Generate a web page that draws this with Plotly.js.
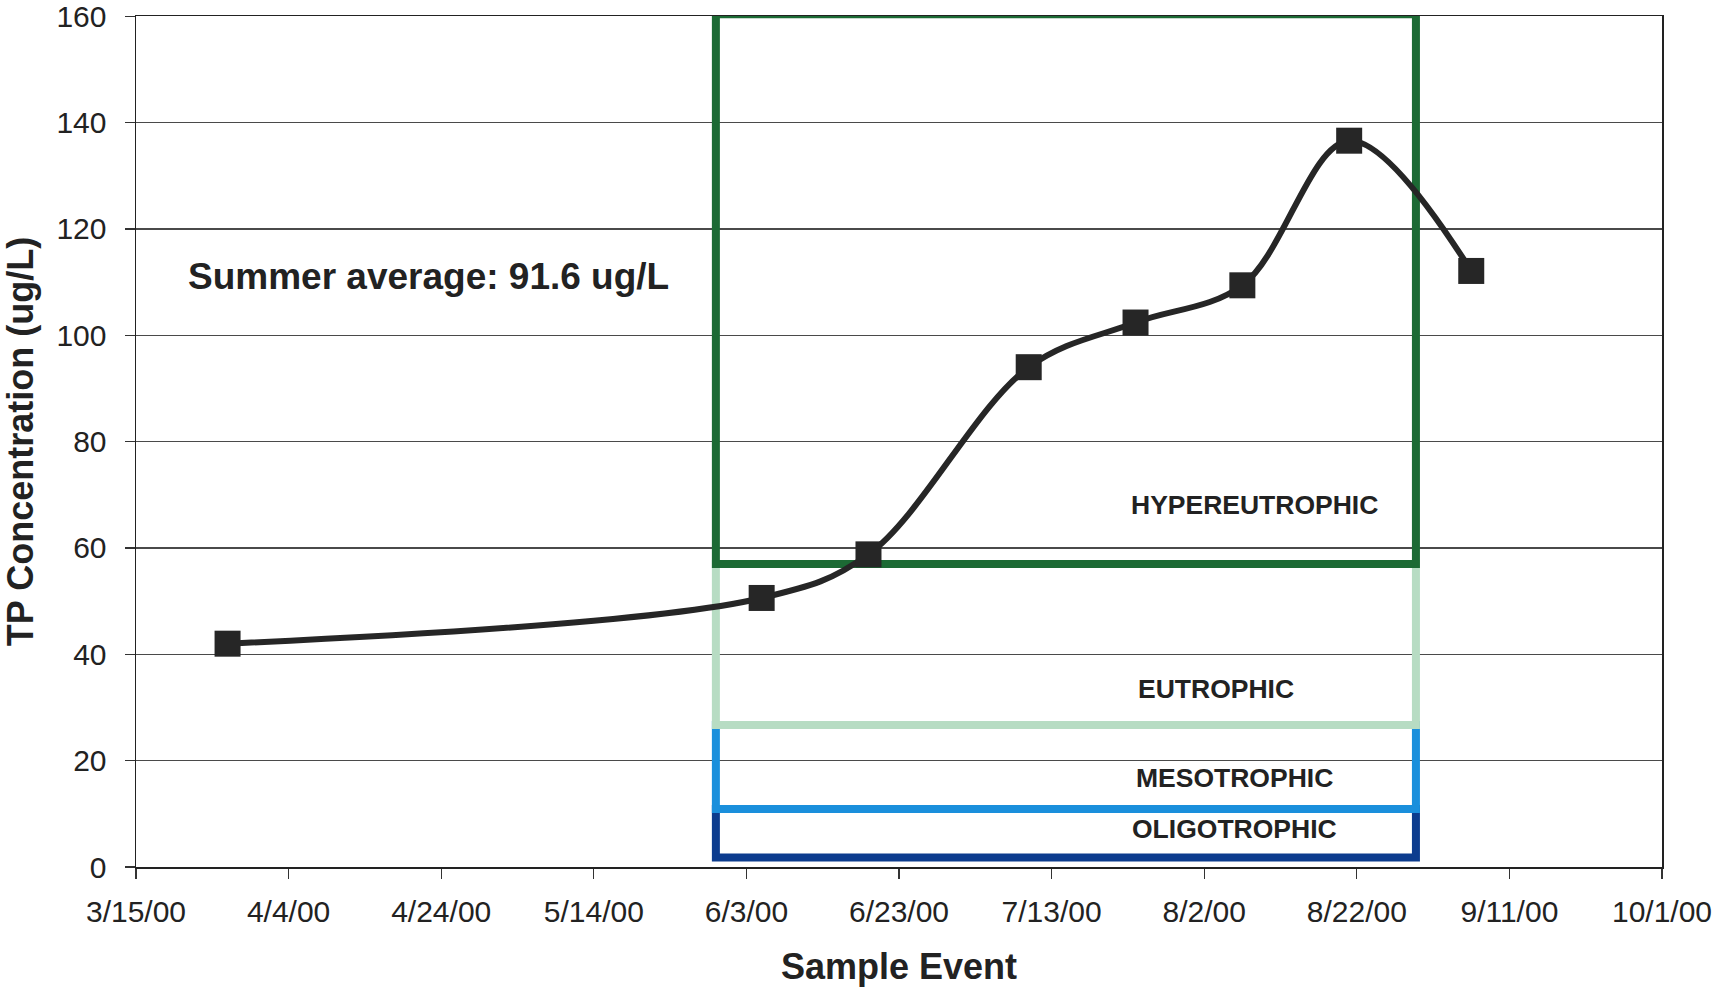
<!DOCTYPE html>
<html>
<head>
<meta charset="utf-8">
<script src="https://cdn.plot.ly/plotly-3.0.1.min.js"></script>
<style>html,body{margin:0;padding:0;background:#fff;}#chart{width:1718px;height:987px;}</style>
</head>
<body>
<div id="chart"></div>
<script>
// Data
var sampleDates = ['2000-03-27', '2000-06-05', '2000-06-19', '2000-07-10', '2000-07-24', '2000-08-07', '2000-08-21', '2000-09-06'];
var tpValues = [42.0, 50.6, 58.8, 94.0, 102.4, 109.4, 136.6, 112.1];

// Trophic state zones (date span and concentration bounds)
var zoneStart = '2000-05-30';
var zoneEnd = '2000-08-29 18:00';
var zoneNames = ['OLIGOTROPHIC', 'MESOTROPHIC', 'EUTROPHIC', 'HYPEREUTROPHIC'];
var zoneLow = [1.8, 10.9, 26.7, 57.0];
var zoneHigh = [10.9, 26.7, 57.0, 160.4];
var zoneColors = ['#0c3c8e', '#1a8fdc', '#b7dcc3', '#1c6a34'];
var zoneLabelX = ['2000-08-06', '2000-08-06', '2000-08-03 14:00', '2000-08-08 14:00'];
var zoneLabelY = [7.2, 16.7, 33.5, 68.0];

var yTickVals = [0, 20, 40, 60, 80, 100, 120, 140, 160];

var summerText = 'Summer average: 91.6 ug/L';
var yTitle = 'TP Concentration (ug/L)';
var xTitle = 'Sample Event';

var shapes = [];
var annotations = [];
for (var i = 0; i < zoneNames.length; i++) {
  shapes.push({
    type: 'rect', xref: 'x', yref: 'y',
    x0: zoneStart, x1: zoneEnd, y0: zoneLow[i], y1: zoneHigh[i],
    line: {color: zoneColors[i], width: 8},
    fillcolor: 'rgba(0,0,0,0)',
    layer: 'between'
  });
  annotations.push({
    x: zoneLabelX[i], y: zoneLabelY[i], xref: 'x', yref: 'y',
    text: '<b>' + zoneNames[i] + '</b>', showarrow: false,
    font: {family: 'Liberation Sans, Arial, sans-serif', size: 26.5, color: '#222'}
  });
}
annotations.push({
  x: '2000-03-21 12:00', y: 111, xref: 'x', yref: 'y', xanchor: 'left',
  text: '<b>' + summerText + '</b>', showarrow: false,
  font: {family: 'Liberation Sans, Arial, sans-serif', size: 37, color: '#222'}
});

var trace = {
  x: sampleDates, y: tpValues,
  type: 'scatter', mode: 'lines+markers',
  line: {shape: 'spline', smoothing: 1, color: '#262626', width: 6},
  marker: {symbol: 'square', size: 26, color: '#262626'},
  cliponaxis: false,
  showlegend: false
};

var layout = {
  width: 1718, height: 987,
  margin: {l: 136, r: 56, t: 16, b: 120},
  paper_bgcolor: '#fff', plot_bgcolor: '#fff',
  font: {family: 'Liberation Sans, Arial, sans-serif', color: '#222'},
  xaxis: {
    type: 'date',
    range: ['2000-03-15', '2000-10-01'],
    tick0: '2000-03-15', dtick: 20 * 86400000,
    tickformat: '%-m/%-d/%y',
    ticks: 'outside', ticklen: 10, tickwidth: 1.2, tickcolor: '#333',
    tickfont: {size: 30, color: '#222'},
    ticklabelstandoff: 7,
    ticklabeloverflow: 'allow',
    showgrid: false, zeroline: false,
    showline: true, linecolor: '#222', linewidth: 1.5, mirror: true,
    title: {text: '<b>' + xTitle + '</b>', font: {size: 36, color: '#222'}, standoff: 32}
  },
  yaxis: {
    range: [0, 160.05],
    tickmode: 'array', tickvals: yTickVals,
    ticks: 'outside', ticklen: 10, tickwidth: 1.2, tickcolor: '#333',
    tickfont: {size: 30, color: '#222'},
    ticklabelstandoff: 12,
    ticklabeloverflow: 'allow',
    showgrid: true, gridcolor: '#4a4a4a', gridwidth: 1.5,
    zeroline: false,
    showline: true, linecolor: '#222', linewidth: 1.5, mirror: true,
    title: {text: '<b>' + yTitle + '</b>', font: {size: 36, color: '#222'}, standoff: 14}
  },
  shapes: shapes,
  annotations: annotations
};

Plotly.newPlot('chart', [trace], layout, {displayModeBar: false, staticPlot: true});
</script>
</body>
</html>
